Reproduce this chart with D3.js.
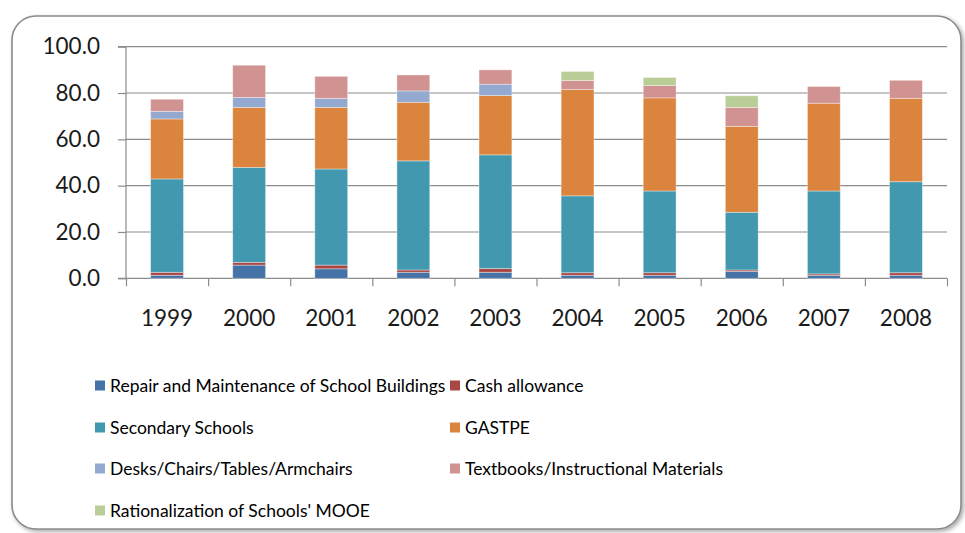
<!DOCTYPE html>
<html>
<head>
<meta charset="utf-8">
<script src="https://cdn.jsdelivr.net/npm/d3@7"></script>
<style>
  html, body { margin: 0; padding: 0; background: #fff; }
  svg { display: block; }
  text { font-family: Lato, "Open Sans", sans-serif; }
</style>
</head>
<body>
<svg id="chart" width="965" height="533"></svg>
<script>
// ---- data ----
const years = ["1999","2000","2001","2002","2003","2004","2005","2006","2007","2008"];
const seriesNames = [
  "Repair and Maintenance of School Buildings",
  "Cash allowance",
  "Secondary Schools",
  "GASTPE",
  "Desks/Chairs/Tables/Armchairs",
  "Textbooks/Instructional Materials",
  "Rationalization of Schools' MOOE"
];
const repair     = [1.3, 5.7, 4.1, 2.6, 2.6, 1.3, 1.3, 3.0, 1.3, 1.3];
const cash       = [1.3, 1.2, 1.6, 1.0, 1.6, 1.1, 1.1, 0.6, 0.6, 1.1];
const secondary  = [40.3, 41.0, 41.5, 47.1, 49.1, 33.2, 35.3, 24.9, 35.8, 39.3];
const gastpe     = [25.9, 25.9, 26.6, 25.3, 25.6, 45.9, 40.2, 37.1, 37.9, 36.0];
const desks      = [3.3, 4.3, 3.9, 4.9, 4.9, 0, 0, 0, 0, 0];
const textbooks  = [5.2, 13.9, 9.5, 6.9, 6.2, 3.9, 5.3, 8.2, 7.2, 7.8];
const mooe       = [0, 0, 0, 0, 0, 3.9, 3.5, 5.0, 0, 0];
const yTicks = [0, 20, 40, 60, 80, 100];
const colors = ["#4572A7", "#AA4643", "#4198AF", "#DB843D", "#93A9CF", "#D19392", "#B9CD96"];

const seriesValues = [repair, cash, secondary, gastpe, desks, textbooks, mooe];
const table = years.map((y, i) => {
  const row = { year: y };
  seriesNames.forEach((n, k) => row[n] = seriesValues[k][i]);
  return row;
});

const svg = d3.select("#chart");

// ---- frame ----
const defs = svg.append("defs");
const f = defs.append("filter").attr("id", "shadow").attr("x", "-5%").attr("y", "-5%").attr("width", "110%").attr("height", "110%");
f.append("feDropShadow").attr("dx", 2).attr("dy", 2).attr("stdDeviation", 2).attr("flood-color", "#000").attr("flood-opacity", 0.35);

svg.append("rect")
  .attr("x", 12).attr("y", 16).attr("width", 949).attr("height", 513)
  .attr("rx", 24).attr("ry", 24)
  .attr("fill", "#fff").attr("stroke", "#8a8a8a").attr("stroke-width", 1.6)
  .attr("filter", "url(#shadow)");

// ---- scales ----
const plotLeft = 126, plotRight = 947, plotTop = 46.7, plotBottom = 278.3;
const x = d3.scaleBand().domain(years).range([plotLeft, plotRight]).paddingInner(0.6).paddingOuter(0.3);
const xb = d3.scaleLinear().domain([0, years.length]).range([plotLeft, plotRight]);
const y = d3.scaleLinear().domain([0, 100]).range([plotBottom, plotTop]);

// gridlines
svg.append("g")
  .selectAll("line").data(yTicks.filter(d => d > 0)).join("line")
  .attr("x1", plotLeft).attr("x2", plotRight)
  .attr("y1", d => y(d)).attr("y2", d => y(d))
  .attr("stroke", "#8c8c8c").attr("stroke-width", 1.2);

// y axis
const yAxis = svg.append("g").attr("transform", `translate(${plotLeft},0)`)
  .call(d3.axisLeft(y).tickValues(yTicks).tickFormat(d3.format(".1f")).tickSize(8).tickPadding(18));
yAxis.select(".domain").attr("stroke", "#8c8c8c").attr("stroke-width", 1.2).attr("d", `M-8,${plotBottom}H0V${plotTop}H-8`);
yAxis.selectAll(".tick line").attr("stroke", "#8c8c8c").attr("stroke-width", 1.2);
yAxis.selectAll(".tick text").attr("fill", "#1a1a1a").style("font-size", "22.5px").style("font-family", "Lato, sans-serif");

// x axis boundary ticks
const xTickG = svg.append("g").attr("transform", `translate(0,${plotBottom})`)
  .call(d3.axisBottom(xb).tickValues(d3.range(0, years.length + 1)).tickSize(8).tickFormat(""));
xTickG.select(".domain").attr("stroke", "#8c8c8c").attr("stroke-width", 1.2).attr("d", `M${plotLeft},0H${plotRight}`);
xTickG.selectAll(".tick line").attr("stroke", "#8c8c8c").attr("stroke-width", 1.2);

// x labels
const xLab = svg.append("g").attr("transform", `translate(0,${plotBottom})`)
  .call(d3.axisBottom(x).tickSize(0).tickPadding(32));
xLab.select(".domain").remove();
xLab.selectAll(".tick text").attr("fill", "#1a1a1a").style("font-size", "22.5px").style("font-family", "Lato, sans-serif");

// ---- bars ----
const stacked = d3.stack().keys(seriesNames)(table);
svg.append("g").selectAll("g").data(stacked).join("g")
  .attr("fill", (d, i) => colors[i])
  .selectAll("rect").data(d => d).join("rect")
  .attr("x", d => x(d.data.year))
  .attr("width", x.bandwidth())
  .attr("y", d => y(d[1]))
  .attr("height", d => Math.max(0, y(d[0]) - y(d[1])))
  .attr("stroke", "rgba(255,255,255,0.45)").attr("stroke-width", 0.8);

// ---- legend ----
const legendItems = [
  { i: 0, x: 95,  y: 386 }, { i: 1, x: 450, y: 386 },
  { i: 2, x: 95,  y: 428 }, { i: 3, x: 450, y: 428 },
  { i: 4, x: 95,  y: 469 }, { i: 5, x: 450, y: 469 },
  { i: 6, x: 95,  y: 511 }
];
const lg = svg.append("g").selectAll("g").data(legendItems).join("g")
  .attr("transform", d => `translate(${d.x},${d.y})`);
lg.append("rect").attr("x", 0).attr("y", -5.5).attr("width", 10).attr("height", 10)
  .attr("fill", d => colors[d.i]);
lg.append("text").attr("x", 15).attr("y", 0).attr("dy", "0.35em")
  .style("font-size", "17.5px").attr("fill", "#000")
  .text(d => seriesNames[d.i]);
</script>
</body>
</html>
